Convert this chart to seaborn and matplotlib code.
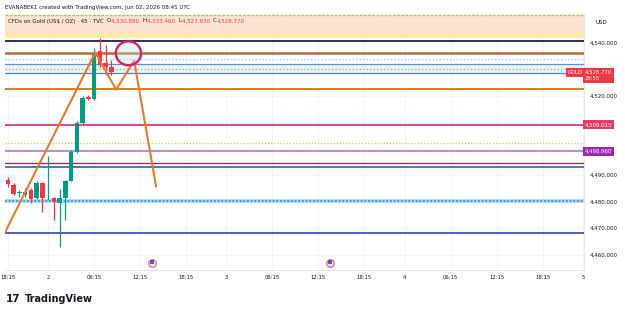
import matplotlib
matplotlib.use("Agg")
import matplotlib.pyplot as plt
import matplotlib.transforms as mtransforms
from matplotlib.patches import Ellipse
from matplotlib.offsetbox import TextArea, HPacker, AnchoredOffsetbox
import numpy as np
import pandas as pd
import seaborn as sns

# ---------------- data ----------------
bar_index = list(range(-7, 12))
opens = [4488.2, 4486.3, 4483.4, 4482.5, 4484.4, 4481.4, 4487.1, 4481.2, 4481.4, 4479.5,
         4481.4, 4487.9, 4498.8, 4509.8, 4519.6, 4518.8, 4537.0, 4532.3, 4530.89]
highs = [4489.4, 4487.1, 4484.4, 4485.0, 4485.2, 4487.8, 4487.4, 4497.3, 4481.8, 4484.8,
         4488.2, 4499.5, 4510.5, 4519.9, 4520.3, 4538.0, 4541.8, 4539.1, 4533.46]
lows = [4485.7, 4482.5, 4481.9, 4481.8, 4479.5, 4481.0, 4476.2, 4480.6, 4473.1, 4462.9,
        4473.1, 4487.8, 4498.4, 4509.3, 4518.4, 4518.4, 4530.8, 4527.8, 4527.93]
closes = [4486.7, 4482.9, 4483.6, 4483.8, 4481.0, 4487.1, 4481.4, 4481.5, 4479.9, 4481.4,
          4487.8, 4498.9, 4509.7, 4519.2, 4518.8, 4536.1, 4531.6, 4530.8, 4528.77]

level_prices = [4550.45, 4540.75, 4536.2, 4533.7, 4531.8, 4530.0, 4528.5, 4522.6,
                4509.015, 4502.0, 4498.96, 4494.7, 4493.0, 4480.3, 4468.3]

trend_bars = [-7.48, 8.2, 11.83, 14.96, 18.78]
trend_prices = [4468.5, 4536.3, 4522.3, 4533.2, 4485.7]

circle_bar, circle_price = 13.97, 4536.0

time_tick_bars = [-7, 0, 8, 16, 24, 31, 39, 47, 55, 62, 70, 78, 86, 93]
time_tick_labels = ["18:15", "2", "06:15", "12:15", "18:15", "3", "06:15", "12:15",
                    "18:15", "4", "06:15", "12:15", "18:15", "5"]
grid_prices = [4460, 4470, 4480, 4490, 4500, 4510, 4520, 4530, 4540]
# labels hidden behind the price tags in the reference are not shown
price_ticks = [4460, 4470, 4480, 4490, 4520, 4540]
event_bars = [18, 49]

# ---------------- styles ----------------
UP, DOWN = "#089981", "#f23645"
level_styles = [
    ("#9ccc65", (0, (2, 1)), 1.0),
    ("#1c1c44", "-", 1.3),
    ("#b86a3c", "-", 1.8),
    ("#8fd3e3", (0, (1, 1.5)), 1.0),
    ("#5b8fd6", "-", 0.9),
    ("#c9b43a", (0, (1, 1.5)), 1.0),
    ("#4f7fd0", "-", 0.9),
    ("#e07b20", "-", 1.4),
    ("#d81b60", "-", 1.1),
    ("#d6c65a", (0, (1, 1.5)), 0.9),
    ("#a070b8", "-", 1.1),
    ("#b01c50", "-", 0.9),
    ("#2f5fa8", "-", 1.2),
    ("#1e88e5", (0, (1.2, 1.2)), 1.1),
    ("#3f51b5", "-", 1.3),
]

sns.set_theme(style="white")
plt.rcParams["font.family"] = ["DejaVu Sans"]

fig = plt.figure(figsize=(6.25, 3.14), dpi=100)
fig.patch.set_facecolor("white")
W, H = 625, 314
ax = fig.add_axes([5 / W, 1 - 270 / H, (584 - 5) / W, (270 - 14) / H])
ax.set_facecolor("white")
ax.set_xlim(-7.5, 93.2)
ax.set_ylim(4454.2, 4550.83)

# grid
for b in time_tick_bars:
    ax.axvline(b, color="#f3f4f8", lw=0.6, zorder=0)
for p in grid_prices:
    ax.axhline(p, color="#f3f4f8", lw=0.6, zorder=0)

# bands
ax.axhspan(4543.7, 4550.45, color="#fde3cf", zorder=0.5, lw=0)
ax.axhspan(4541.6, 4543.7, color="#ffe9a6", zorder=0.5, lw=0)
ax.axhspan(4528.5, 4531.8, color="#e8f4fb", zorder=0.5, lw=0)

ax.axhline(level_prices[13], color="#a9d4f5", lw=2.6, zorder=1)
for p, (col, ls, lw) in zip(level_prices, level_styles):
    ax.axhline(p, color=col, ls=ls, lw=lw, zorder=1.2)

# candles
df = pd.DataFrame({"bar": bar_index, "open": opens, "high": highs,
                   "low": lows, "close": closes})
df["color"] = np.where(df["close"] >= df["open"], UP, DOWN)
df["bottom"] = df[["open", "close"]].min(axis=1)
df["height"] = (df["close"] - df["open"]).abs().clip(lower=0.35)
ax.vlines(df["bar"], df["low"], df["high"], colors=df["color"], lw=0.9, zorder=3)
ax.bar(df["bar"], df["height"], bottom=df["bottom"], width=0.75,
       color=df["color"], zorder=3.1, linewidth=0)

# drawn trend lines
sns.lineplot(x=trend_bars, y=trend_prices, ax=ax, sort=False, color="#e8792b",
             lw=1.5, zorder=4)
ax.add_patch(Ellipse((circle_bar, circle_price), width=4.4, height=9.0,
                     facecolor=(0.78, 0.88, 0.84, 0.35), edgecolor="#c8246a",
                     lw=1.7, zorder=4.5))

# event markers
ax.scatter(event_bars, [4456.9] * len(event_bars), s=30, facecolor="#dfe3f3",
           edgecolor="#e07080", linewidth=0.9, zorder=5, clip_on=False)
ax.scatter(event_bars, [4457.3] * len(event_bars), s=6, marker="s",
           facecolor="#4a5fb0", linewidth=0, zorder=5.1, clip_on=False)

# axes styling
for s in ["left", "top"]:
    ax.spines[s].set_visible(False)
for s in ["right", "bottom"]:
    ax.spines[s].set_color("#e0e3eb")
    ax.spines[s].set_linewidth(0.6)
ax.yaxis.tick_right()
ax.set_yticks(price_ticks)
ax.set_yticklabels([f"{p:,.3f}" for p in price_ticks], fontsize=4, color="#131722")
ax.tick_params(axis="y", length=0, pad=4)
ax.set_xticks(time_tick_bars)
ax.set_xticklabels(time_tick_labels, fontsize=3.8, color="#131722")
ax.tick_params(axis="x", length=0, pad=3.5)
ax.set_xlabel("")
ax.set_ylabel("")
ax.grid(False)

# right-axis price tags
blend = mtransforms.blended_transform_factory(ax.transAxes, ax.transData)
last = df.iloc[-1]
ax.text(0.9975, last["close"], "GOLD", transform=blend, ha="right", va="center",
        fontsize=3.8, color="white", zorder=10, clip_on=False,
        bbox=dict(boxstyle="square,pad=0.35", fc=DOWN, ec="none"))
ax.text(1.0015, last["close"] - 1.1, f"{last['close']:,.3f}\n29:55", transform=blend,
        ha="left", va="center", fontsize=3.9, color="white", zorder=10, clip_on=False,
        linespacing=1.3, bbox=dict(boxstyle="square,pad=0.4", fc=DOWN, ec="none"))
ax.text(1.0015, level_prices[8], f"{level_prices[8]:,.3f}", transform=blend,
        ha="left", va="center", fontsize=3.9, color="white", zorder=10, clip_on=False,
        bbox=dict(boxstyle="square,pad=0.4", fc="#e53b63", ec="none"))
ax.text(1.0015, level_prices[10], f"{level_prices[10]:,.3f}", transform=blend,
        ha="left", va="center", fontsize=3.9, color="white", zorder=10, clip_on=False,
        bbox=dict(boxstyle="square,pad=0.4", fc="#9c27b0", ec="none"))
fig.text(596 / W, 1 - 22 / H, "USD", fontsize=4, color="#131722", va="center")

# header texts
fig.text(5 / W, 1 - 7 / H, "EVANABEK1 created with TradingView.com, Jun 02, 2026 08:45 UTC",
         fontsize=4, color="#131722", va="center")
dark, red = "#131722", DOWN
pieces = [("CFDs on Gold (US\\$ / OZ) · 45 · TVC  ", dark),
          ("O", dark), (f"{last['open']:,.3f}  ", red),
          ("H", dark), (f"{last['high']:,.3f}  ", red),
          ("L", dark), (f"{last['low']:,.3f}  ", red),
          ("C", dark), (f"{last['close']:,.3f}", red)]
boxes = [TextArea(t, textprops=dict(color=c, fontsize=4)) for t, c in pieces]
pack = HPacker(children=boxes, align="baseline", pad=0, sep=0)
anch = AnchoredOffsetbox(loc="center left", child=pack, pad=0, frameon=False,
                         bbox_to_anchor=(8 / W, 1 - 21 / H),
                         bbox_transform=fig.transFigure, borderpad=0)
fig.add_artist(anch)

# TradingView logo
fig.text(6 / W, 1 - 299 / H, "17", fontsize=7.5, fontweight="black", color="#131722",
         va="center")
fig.text(25 / W, 1 - 299 / H, "TradingView", fontsize=7.0, fontweight="semibold",
         color="#131722", va="center")

fig.savefig("out.png", dpi=100, facecolor="white")
